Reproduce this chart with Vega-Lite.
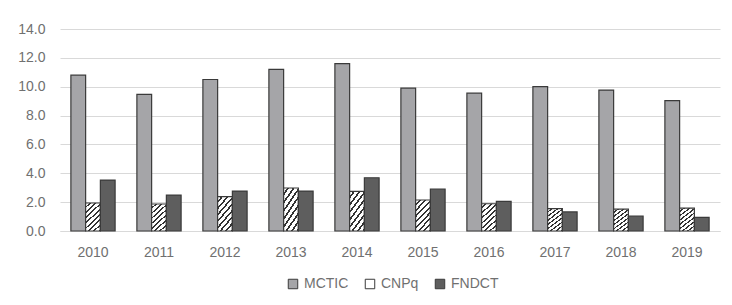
{
  "$schema": "https://vega.github.io/schema/vega-lite/v6.json",
  "width": 660,
  "height": 202,
  "autosize": "none",
  "padding": {"left": 60, "top": 29, "right": 12, "bottom": 74},
  "background": "white",
  "config": {
    "view": {"stroke": null},
    "font": "Liberation Sans",
    "axis": {"labelColor": "#707070", "labelFontSize": 14, "titleColor": "#707070"},
    "legend": {"labelColor": "#707070", "labelFontSize": 14}
  },
  "data": {
    "values": [
      {"year": "2010", "org": "MCTIC", "value": 10.8},
      {"year": "2010", "org": "CNPq", "value": 1.94},
      {"year": "2010", "org": "FNDCT", "value": 3.53},
      {"year": "2011", "org": "MCTIC", "value": 9.47},
      {"year": "2011", "org": "CNPq", "value": 1.87},
      {"year": "2011", "org": "FNDCT", "value": 2.49},
      {"year": "2012", "org": "MCTIC", "value": 10.5},
      {"year": "2012", "org": "CNPq", "value": 2.38},
      {"year": "2012", "org": "FNDCT", "value": 2.77},
      {"year": "2013", "org": "MCTIC", "value": 11.2},
      {"year": "2013", "org": "CNPq", "value": 2.98},
      {"year": "2013", "org": "FNDCT", "value": 2.77},
      {"year": "2014", "org": "MCTIC", "value": 11.6},
      {"year": "2014", "org": "CNPq", "value": 2.75},
      {"year": "2014", "org": "FNDCT", "value": 3.69},
      {"year": "2015", "org": "MCTIC", "value": 9.9},
      {"year": "2015", "org": "CNPq", "value": 2.15},
      {"year": "2015", "org": "FNDCT", "value": 2.91},
      {"year": "2016", "org": "MCTIC", "value": 9.55},
      {"year": "2016", "org": "CNPq", "value": 1.89},
      {"year": "2016", "org": "FNDCT", "value": 2.06},
      {"year": "2017", "org": "MCTIC", "value": 10.0},
      {"year": "2017", "org": "CNPq", "value": 1.55},
      {"year": "2017", "org": "FNDCT", "value": 1.32},
      {"year": "2018", "org": "MCTIC", "value": 9.77},
      {"year": "2018", "org": "CNPq", "value": 1.52},
      {"year": "2018", "org": "FNDCT", "value": 1.04},
      {"year": "2019", "org": "MCTIC", "value": 9.03},
      {"year": "2019", "org": "CNPq", "value": 1.59},
      {"year": "2019", "org": "FNDCT", "value": 0.95}
    ]
  },
  "mark": {"type": "bar", "stroke": "#3a3a3a", "strokeWidth": 1.2},
  "encoding": {
    "x": {
      "field": "year", "type": "nominal", "title": null,
      "scale": {"paddingInner": 0.33, "paddingOuter": 0.165},
      "axis": {"labelAngle": 0, "ticks": false, "domainColor": "#d9d9d9", "labelPadding": 14, "grid": false}
    },
    "xOffset": {"field": "org", "type": "nominal", "sort": ["MCTIC", "CNPq", "FNDCT"]},
    "y": {
      "field": "value", "type": "quantitative", "title": null,
      "scale": {"domain": [0, 14], "nice": false},
      "axis": {"values": [0, 2, 4, 6, 8, 10, 12, 14], "format": ".1f", "ticks": false, "domain": false, "gridColor": "#d9d9d9", "labelPadding": 15}
    },
    "color": {
      "condition": {
        "test": "datum.org === 'CNPq'",
        "value": {"gradient": "linear", "x1": 0, "y1": 0, "x2": 0.6, "y2": 1.2, "stops": [
          {"offset": 0, "color": "#ffffff"}, {"offset": 0.08, "color": "#ffffff"},
          {"offset": 0.08, "color": "#333333"}, {"offset": 0.125, "color": "#333333"},
          {"offset": 0.125, "color": "#ffffff"}, {"offset": 0.205, "color": "#ffffff"},
          {"offset": 0.205, "color": "#333333"}, {"offset": 0.25, "color": "#333333"},
          {"offset": 0.25, "color": "#ffffff"}, {"offset": 0.33, "color": "#ffffff"},
          {"offset": 0.33, "color": "#333333"}, {"offset": 0.375, "color": "#333333"},
          {"offset": 0.375, "color": "#ffffff"}, {"offset": 0.455, "color": "#ffffff"},
          {"offset": 0.455, "color": "#333333"}, {"offset": 0.5, "color": "#333333"},
          {"offset": 0.5, "color": "#ffffff"}, {"offset": 0.58, "color": "#ffffff"},
          {"offset": 0.58, "color": "#333333"}, {"offset": 0.625, "color": "#333333"},
          {"offset": 0.625, "color": "#ffffff"}, {"offset": 0.705, "color": "#ffffff"},
          {"offset": 0.705, "color": "#333333"}, {"offset": 0.75, "color": "#333333"},
          {"offset": 0.75, "color": "#ffffff"}, {"offset": 0.83, "color": "#ffffff"},
          {"offset": 0.83, "color": "#333333"}, {"offset": 0.875, "color": "#333333"},
          {"offset": 0.875, "color": "#ffffff"}, {"offset": 0.955, "color": "#ffffff"},
          {"offset": 0.955, "color": "#333333"}, {"offset": 1, "color": "#333333"}
        ]}
      },
      "field": "org", "type": "nominal", "title": null,
      "sort": ["MCTIC", "CNPq", "FNDCT"],
      "scale": {"domain": ["MCTIC", "CNPq", "FNDCT"], "range": ["#a5a5a8", "#ffffff", "#5e5e5e"]},
      "legend": {
        "orient": "none", "legendX": 226, "legendY": 248, "direction": "horizontal",
        "symbolType": "square", "symbolSize": 90, "symbolStrokeColor": "#3a3a3a", "symbolStrokeWidth": 1,
        "columnPadding": 14, "labelOffset": 4,
        "encode": {
          "symbols": {
            "update": {
              "fill": {"signal": "datum.label === 'CNPq' ? {gradient: 'linear', x1: 0, y1: 0, x2: 1, y2: 1, stops: [{offset: 0, color: '#ffffff'}, {offset: 0.3, color: '#ffffff'}, {offset: 0.3, color: '#333333'}, {offset: 0.45, color: '#333333'}, {offset: 0.45, color: '#ffffff'}, {offset: 0.6, color: '#ffffff'}, {offset: 0.6, color: '#333333'}, {offset: 0.75, color: '#333333'}, {offset: 0.75, color: '#ffffff'}, {offset: 1, color: '#ffffff'}]} : scale('color', datum.value)"},
              "stroke": {"value": "#3a3a3a"}
            }
          }
        }
      }
    }
  }
}
